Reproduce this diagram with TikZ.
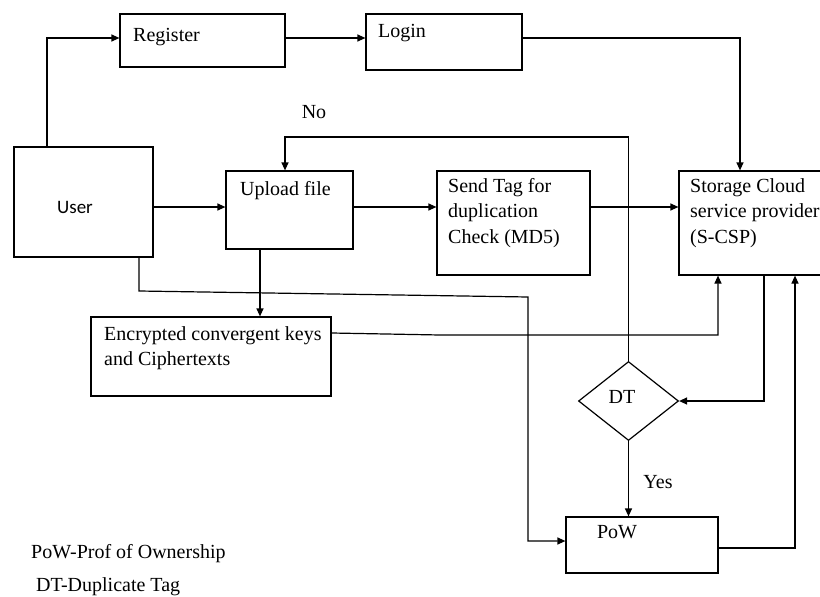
\documentclass[tikz,border=0pt]{standalone}
\usepackage{fontspec}
\setmainfont{Liberation Serif}
\newfontfamily\userfont{Carlito}
\usetikzlibrary{arrows.meta,shapes.geometric}
\begin{document}
\begin{tikzpicture}[x=1pt,y=-1pt,
  box/.style={draw,line width=1.2pt,rectangle,inner sep=0pt},
  arr/.style={line width=1.2pt,-{Triangle[length=8pt,width=7pt]}},
  txt/.style={inner sep=0pt,font=\fontsize{20}{25.5}\selectfont,align=left},
  every node/.style={font=\fontsize{20}{25.5}\selectfont}]
\useasboundingbox[fill=white] (0,0) rectangle (820,597);
% boxes
\node[box,minimum width=165pt,minimum height=53pt] (reg) at (202.5,40.5) {};
\node[box,minimum width=156pt,minimum height=56pt] (login) at (444,42) {};
\node[box,minimum width=139pt,minimum height=110pt] (user) at (83.5,202) {};
\node[box,minimum width=127pt,minimum height=78pt] (upload) at (289.5,210) {};
\node[box,minimum width=153pt,minimum height=104pt] (send) at (513.5,223) {};
\node[box,minimum width=161pt,minimum height=104pt] (scsp) at (759.5,223) {};
\node[box,minimum width=240pt,minimum height=79pt] (enc) at (211,356.5) {};
\node[draw,line width=1.2pt,diamond,inner sep=0pt,minimum width=100pt,minimum height=79pt] (dt) at (628.5,401) {};
\node[box,minimum width=152pt,minimum height=56pt] (pow) at (642,545) {};
% texts
\node[txt,anchor=west] (tReg) at (133,37) {Register};
\node[txt,anchor=west] (tLogin) at (378,33) {Login};
\node[inner sep=0pt,font=\userfont\fontsize{19}{22}\selectfont] (tUser) at (75,207) {User};
\node[txt,anchor=west] (tUp) at (240,191) {Upload file};
\node[txt,anchor=north west] (tSend) at (448,178) {Send Tag for\\duplication\\Check (MD5)};
\node[txt,anchor=north west] (tScsp) at (690,178) {Storage Cloud\\service provider\\(S-CSP)};
\node[txt,anchor=north west] (tEnc) at (104,326) {Encrypted convergent keys\\and Ciphertexts};
\node[txt] (tDT) at (622,397) {DT};
\node[txt] (tPoW) at (617,532) {PoW};
\node[txt] (tNo) at (314,112) {No};
\node[txt] (tYes) at (658,482) {Yes};
\node[txt,anchor=west] (leg1) at (31,554) {PoW-Prof of Ownership};
\node[txt,anchor=west] (leg2) at (36,587) {DT-Duplicate Tag};
% connectors
\draw[arr] ([xshift=-36.5pt]user.north) |- ([yshift=2.5pt]reg.west);
\draw[arr] ([yshift=2.5pt]reg.east) -- ([yshift=2.5pt]reg.east -| login.west);
\draw[arr] ([yshift=4pt]login.east) -| ([xshift=-19.5pt]scsp.north);
\draw[arr] ([yshift=-5pt]user.east) -- ([yshift=-5pt]user.east -| upload.west);
\draw[arr] ([yshift=3pt]upload.east) -- ([yshift=3pt]upload.east -| send.west);
\draw[arr] ([yshift=16pt]send.east) -- ([yshift=16pt]send.east -| scsp.west);
\draw[arr] (dt.north) -- ++(0,-224) -| ([xshift=-4.5pt]upload.north);
\draw[arr] ([xshift=-29.5pt]upload.south) -- ([xshift=-29.5pt]upload.south |- enc.north);
\coordinate (ub1) at (139,291);
\coordinate (ub2) at (528,297);
\draw[arr] ([xshift=55.5pt]user.south) -- (ub1) -- (ub2) |- ([yshift=4pt]pow.west);
\coordinate (eb1) at (440,335);
\draw[arr] ([yshift=23.5pt]enc.east) -- (eb1) -| ([xshift=-41.5pt]scsp.south);
\draw[arr] ([xshift=4.5pt]scsp.south) |- (dt.east);
\draw[arr] (dt.south) -- (dt.south |- pow.north);
\draw[arr] ([yshift=-3pt]pow.east) -| ([xshift=35.5pt]scsp.south);
\end{tikzpicture}
\end{document}
